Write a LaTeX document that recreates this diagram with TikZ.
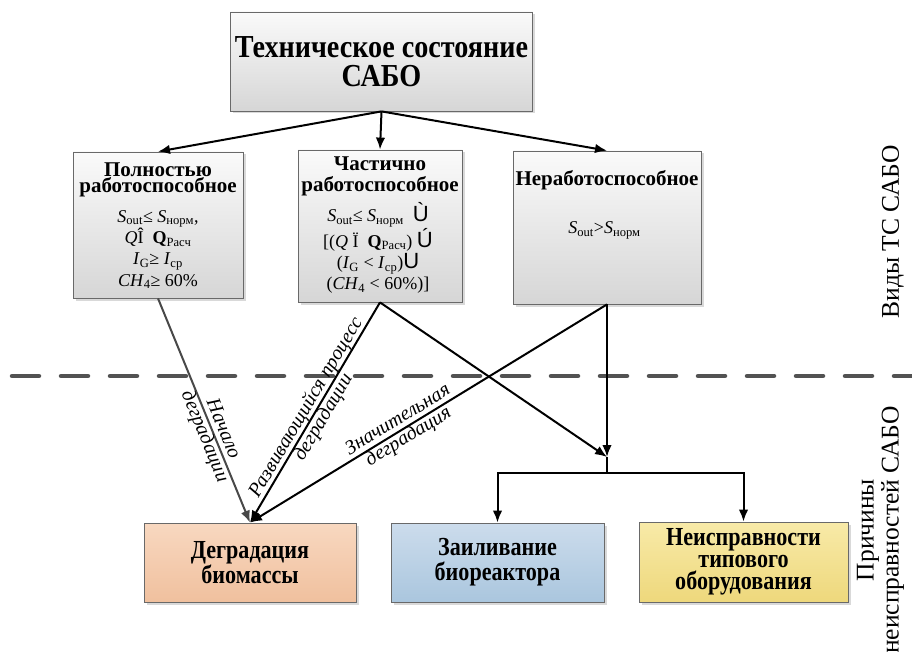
\documentclass[tikz,border=0pt]{standalone}
\usepackage{fontspec}
\setmainfont{Liberation Serif}
\setsansfont{Liberation Sans}
\newfontfamily\topfont[FakeStretch=0.88]{Liberation Serif}
\newfontfamily\botfont[FakeStretch=0.85]{Liberation Serif}
\usepackage{xcolor}
\usepackage{tikz}
\usetikzlibrary{arrows.meta,positioning,shadows}
\definecolor{sbLine}{RGB}{105,105,105}
\definecolor{sbGrayTop}{RGB}{250,250,250}
\definecolor{sbGrayBot}{RGB}{214,214,214}
\definecolor{sbPeachTop}{RGB}{248,216,192}
\definecolor{sbPeachBot}{RGB}{240,192,158}
\definecolor{sbBlueTop}{RGB}{204,220,236}
\definecolor{sbBlueBot}{RGB}{170,198,222}
\definecolor{sbSandTop}{RGB}{248,234,168}
\definecolor{sbSandBot}{RGB}{238,216,124}
\definecolor{sbDash}{RGB}{82,82,82}
\definecolor{sbArrGray}{RGB}{72,72,72}
\newcommand{\lowidx}[1]{\textsubscript{#1}}
\newcommand{\bigsym}[1]{{\sffamily\fontsize{22}{21}\selectfont #1}}

\begin{document}
\begin{tikzpicture}[x=1pt,y=-1pt,
    box/.style={draw=sbLine, line width=0.8pt, inner sep=0pt, align=center,
        drop shadow={shadow xshift=2.5pt, shadow yshift=-2.5pt, opacity=0.3}},
    graybox/.style={box, top color=sbGrayTop, bottom color=sbGrayBot},
    causebox/.style={box, font=\botfont\bfseries\fontsize{26}{25}\selectfont},
    arr/.style={-{Latex[length=12pt,width=9.5pt]}, line width=2pt},
    hdr/.style={inner sep=0pt, align=center, font=\bfseries\fontsize{21}{16}\selectfont},
    crit/.style={inner sep=0pt, align=center, font=\fontsize{18}{21.3}\selectfont},
    lbl/.style={sloped, inner sep=0pt, align=center, font=\itshape\fontsize{20}{20}\selectfont},
    side/.style={inner sep=0pt, align=center, rotate=90, font=\fontsize{25.5}{25}\selectfont},
    sepline/.style={draw=sbDash, line width=4.5pt, line cap=round, dash pattern=on 27pt off 22pt}]
    \useasboundingbox (0,0) rectangle (912,652);
    \draw[sepline] (12,376) -- (912,376);
    % technical state and its three kinds
    \node[graybox, minimum width=302pt, minimum height=99pt,
        font=\topfont\bfseries\fontsize{32}{29.5}\selectfont] (tc) at (381.5,61.5) {Техническое состояние\\САБО};
    \node[graybox, minimum width=170pt, minimum height=146pt] (full) at (158,225) {};
    \node[graybox, minimum width=164pt, minimum height=152pt] (part) at (380,226) {};
    \node[graybox, minimum width=188pt, minimum height=153pt] (fail) at (607,227.5) {};
    \node[hdr, below=10.8pt of full.north] (fullHdr) {Полностью\\работоспособное};
    \node[hdr, below=7pt of part.north, font=\bfseries\fontsize{21}{21}\selectfont] (partHdr) {Частично\\работоспособное};
    \node[hdr, below=19.5pt of fail.north] (failHdr) {Неработоспособное};
    \node[crit, below=58.5pt of full.north] (fullCrit) {\textit{S}\lowidx{out}≤ \textit{S}\lowidx{норм},\\
        \textit{Q}Î\ \ \textbf{Q}\lowidx{Расч}\\
        \textit{I}\lowidx{G}≥ \textit{I}\lowidx{ср}\\
        \textit{CH}\lowidx{4}≥ 60\%};
    \node[crit, below=53pt of part.north, xshift=-2pt] (partCrit) {\textit{S}\lowidx{out}≤ \textit{S}\lowidx{норм}\ \ \bigsym{Ù}\\
        {[}(\textit{Q} Ï\ \ \textbf{Q}\lowidx{Расч}) \bigsym{Ú}\\
        (\textit{I}\lowidx{G} < \textit{I}\lowidx{ср})\bigsym{U}\\
        (\textit{CH}\lowidx{4} < 60\%)]};
    \node[crit, below=71pt of fail.north, xshift=-2.5pt] (failCrit) {\textit{S}\lowidx{out}>\textit{S}\lowidx{норм}};
    % causes
    \node[causebox, top color=sbPeachTop, bottom color=sbPeachBot,
        minimum width=212pt, minimum height=79pt] (deg) at (250,562.5) {Деградация\\биомассы};
    \node[causebox, top color=sbBlueTop, bottom color=sbBlueBot,
        minimum width=213pt, minimum height=79pt] (silt) at (497.5,562.5) {Заиливание\\биореактора};
    \node[causebox, top color=sbSandTop, bottom color=sbSandBot,
        minimum width=209pt, minimum height=80pt, font=\botfont\bfseries\fontsize{26}{22}\selectfont] (equip) at (743.5,562) {Неисправности\\типового\\оборудования};
    \node[side] (kindsLbl) at (893,232) {Виды ТС САБО};
    \node[side] (causesLbl) at (880.5,530) {Причины\\неисправностей САБО};
    % connectors
    \coordinate (merge) at (607,457);
    \coordinate (split) at (607,473);
    \draw[arr] (tc.south) -- (part.north);
    \draw[arr] (tc.south) -- (full.north);
    \draw[arr] (tc.south) -- (fail.north);
    \draw[arr, draw=sbArrGray] (full.south) -- node[lbl, pos=0.6] {Начало\\деградации} (deg.north);
    \draw[arr] (part.south) -- node[lbl, pos=0.5] {Развивающийся процесс\\деградации} (deg.north);
    \draw[arr] (fail.south) -- node[lbl, pos=0.57] {Значительная\\деградация} (deg.north);
    \draw[arr] (part.south) -- (merge);
    \draw[arr] (fail.south) -- (merge);
    \draw[line width=2pt] (merge) -- (split);
    \draw[arr] (split) -| (silt.north);
    \draw[arr] (split) -| (equip.north);
\end{tikzpicture}
\end{document}
